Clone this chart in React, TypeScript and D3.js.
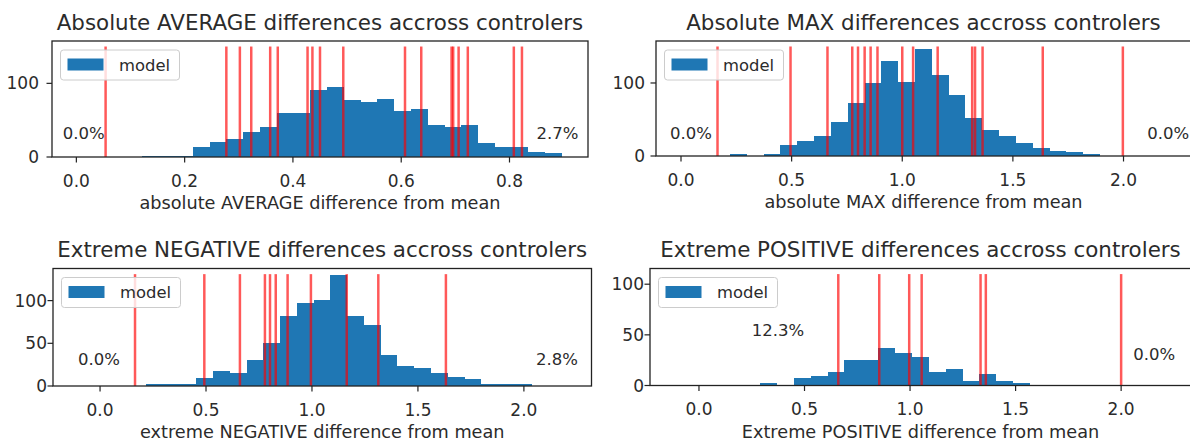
import * as d3 from "d3";

// histogram counts (matplotlib-style equal bins)
const avgCounts = [2, 2, 2, 14, 20, 25, 34, 41, 60, 60, 91, 95, 77, 75, 79, 63, 65, 44, 41, 43, 19, 14, 14, 7, 5];
const maxCounts = [3, 0, 3, 15, 21, 28, 47, 72, 100, 130, 101, 147, 111, 84, 52, 35, 28, 18, 11, 7, 5, 3];
const negCounts = [2, 2, 2, 9, 17, 15, 31, 50, 82, 97, 101, 130, 82, 72, 36, 24, 21, 15, 10, 8, 2, 2, 2];
const posCounts = [2, 0, 7, 9, 13, 25, 25, 37, 32, 28, 13, 16, 4, 11, 4, 2];

// per-controller values (red lines)
const avgLines = [0.054, 0.277, 0.302, 0.323, 0.358, 0.372, 0.427, 0.436, 0.45, 0.493, 0.607, 0.637, 0.693, 0.696, 0.706, 0.723, 0.808, 0.823];
const maxLines = [0.165, 0.495, 0.662, 0.774, 0.8, 0.83, 0.857, 0.888, 1.0, 1.049, 1.16, 1.316, 1.329, 1.363, 1.635, 1.997];
const negLines = [0.165, 0.492, 0.66, 0.778, 0.802, 0.829, 0.885, 0.995, 1.164, 1.313, 1.632];
const posLines = [0.66, 0.854, 0.996, 1.055, 1.334, 1.359, 2.0];

const avgTicks = [0, 0.2, 0.4, 0.6, 0.8];
const wideTicks = [0, 0.5, 1, 1.5, 2];

const BLUE = "#1f77b4";
const TEXT = "#2b2b2b";
const FONT = "'DejaVu Sans', sans-serif";

type Note = { text: string; x: number; y: number };

type PanelProps = {
  left: number;
  right: number;
  top: number;
  bottom: number;
  xDomain: [number, number];
  yDomain: [number, number];
  xTicks: number[];
  yTicks: number[];
  yLabelGap: number;
  binStart: number;
  binWidth: number;
  counts: number[];
  lines: number[];
  lineTop: number;
  title: string;
  xlabel: string;
  notes: Note[];
};

function Panel(p: PanelProps) {
  const x = d3.scaleLinear().domain(p.xDomain).range([p.left, p.right]);
  const y = d3.scaleLinear().domain(p.yDomain).range([p.bottom, p.top]);
  const fmt = d3.format(".1f");
  const cx = (p.left + p.right) / 2;

  const bars = p.counts.map((c, i) => {
    const x0 = p.binStart + i * p.binWidth;
    const x1 = x0 + p.binWidth;
    if (c <= 0) return null;
    return (
      <rect
        key={i}
        x={x(x0)}
        width={x(x1) - x(x0)}
        y={y(c)}
        height={y(0) - y(c)}
        fill={BLUE}
        shapeRendering="crispEdges"
      />
    );
  });

  return (
    <g fontFamily={FONT} fill={TEXT}>
      <text x={cx} y={p.top - 11.5} fontSize={21.4} textAnchor="middle">
        {p.title}
      </text>
      {bars}
      {p.lines.map((v, i) => (
        <line
          key={i}
          x1={x(v)}
          x2={x(v)}
          y1={y(0)}
          y2={y(p.lineTop)}
          stroke="red"
          strokeOpacity={0.65}
          strokeWidth={2.5}
        />
      ))}
      {/* legend */}
      <rect
        x={p.left + 8.5}
        y={p.top + 9}
        width={119}
        height={30}
        rx={3}
        fill="white"
        fillOpacity={0.8}
        stroke="#cccccc"
        strokeWidth={1}
      />
      <rect x={p.left + 15.5} y={p.top + 17.5} width={36} height={12} fill={BLUE} />
      <text x={p.left + 67} y={p.top + 29.5} fontSize={16.4}>
        model
      </text>
      {p.notes.map((n, i) => (
        <text key={i} x={x(n.x)} y={y(n.y)} fontSize={16.5}>
          {n.text}
        </text>
      ))}
      {/* spines */}
      <rect
        x={p.left}
        y={p.top}
        width={p.right - p.left}
        height={p.bottom - p.top}
        fill="none"
        stroke="#222"
        strokeWidth={1.3}
      />
      {p.xTicks.map((t) => (
        <g key={t}>
          <line x1={x(t)} x2={x(t)} y1={p.bottom} y2={p.bottom + 5.5} stroke="#222" strokeWidth={1.2} />
          <text x={x(t)} y={p.bottom + 29.5} fontSize={17} textAnchor="middle">
            {fmt(t)}
          </text>
        </g>
      ))}
      {p.yTicks.map((t) => (
        <g key={t}>
          <line x1={p.left - 5.5} x2={p.left} y1={y(t)} y2={y(t)} stroke="#222" strokeWidth={1.2} />
          <text x={p.left - p.yLabelGap} y={y(t) + 6} fontSize={17} textAnchor="end">
            {t}
          </text>
        </g>
      ))}
      <text x={cx} y={p.bottom + 52} fontSize={17.7} textAnchor="middle">
        {p.xlabel}
      </text>
    </g>
  );
}

export default function App() {
  return (
    <svg
      width={1190}
      height={444}
      style={{ position: "absolute", left: 0, top: 0, background: "white" }}
    >
      <Panel
        left={52}
        right={588}
        top={41}
        bottom={157}
        xDomain={[-0.045, 0.945]}
        yDomain={[0, 157.5]}
        xTicks={avgTicks}
        yTicks={[0, 100]}
        yLabelGap={13}
        binStart={0.122}
        binWidth={0.031}
        counts={avgCounts}
        lines={avgLines}
        lineTop={150}
        title="Absolute AVERAGE differences accross controlers"
        xlabel="absolute AVERAGE difference from mean"
        notes={[
          { text: "0.0%", x: -0.025, y: 25 },
          { text: "2.7%", x: 0.85, y: 25 },
        ]}
      />
      <Panel
        left={656}
        right={1191}
        top={41}
        bottom={156}
        xDomain={[-0.113, 2.305]}
        yDomain={[0, 157.5]}
        xTicks={wideTicks}
        yTicks={[0, 100]}
        yLabelGap={11}
        binStart={0.2215}
        binWidth={0.076}
        counts={maxCounts}
        lines={maxLines}
        lineTop={150}
        title="Absolute MAX differences accross controlers"
        xlabel="absolute MAX difference from mean"
        notes={[
          { text: "0.0%", x: -0.05, y: 23 },
          { text: "0.0%", x: 2.107, y: 23 },
        ]}
      />
      <Panel
        left={53}
        right={591.5}
        top={268.5}
        bottom={386}
        xDomain={[-0.222, 2.319]}
        yDomain={[0, 137.6]}
        xTicks={wideTicks}
        yTicks={[0, 50, 100]}
        yLabelGap={6}
        binStart={0.217}
        binWidth={0.0791}
        counts={negCounts}
        lines={negLines}
        lineTop={131}
        title="Extreme NEGATIVE differences accross controlers"
        xlabel="extreme NEGATIVE difference from mean"
        notes={[
          { text: "0.0%", x: -0.104, y: 25 },
          { text: "2.8%", x: 2.057, y: 25 },
        ]}
      />
      <Panel
        left={650}
        right={1191}
        top={268.5}
        bottom={385.5}
        xDomain={[-0.232, 2.331]}
        yDomain={[0, 115.5]}
        xTicks={wideTicks}
        yTicks={[0, 50, 100]}
        yLabelGap={6}
        binStart={0.289}
        binWidth={0.08}
        counts={posCounts}
        lines={posLines}
        lineTop={110}
        title="Extreme POSITIVE differences accross controlers"
        xlabel="Extreme POSITIVE difference from mean"
        notes={[
          { text: "12.3%", x: 0.25, y: 48.5 },
          { text: "0.0%", x: 2.057, y: 25 },
        ]}
      />
    </svg>
  );
}
